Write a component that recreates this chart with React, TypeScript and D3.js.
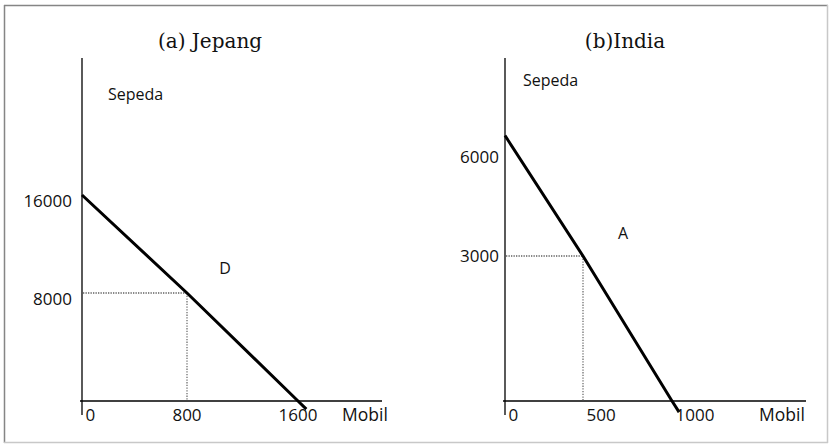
import React from "react";
import * as d3 from "d3";

// ---- data ----
const jepangTicksX = [0, 800, 1600];
const jepangTicksY = [8000, 16000];
const jepangPPF: [number, number][] = [
  [0, 16000],
  [800, 8000],
  [1600, 0],
  [1660, -600],
];
const jepangPoint: [number, number] = [800, 8000];
const jepangMarker = { label: "D", x: 1075, y: 10000 };

const indiaTicksX = [0, 500, 1000];
const indiaTicksY = [3000, 6000];
const indiaPPF: [number, number][] = [
  [0, 6650],
  [500, 3000],
  [1000, 0],
  [1040, -230],
];
const indiaPoint: [number, number] = [500, 3000];
const indiaMarker = { label: "A", x: 725, y: 3700 };

const titles = ["(a) Jepang", "(b)India"];
const yAxisName = "Sepeda";
const xAxisName = "Mobil";

// ---- layout ----
const W = 832;
const H = 445;
const SANS = "'Open Sans', sans-serif";
const SERIF = "'DejaVu Serif', serif";

type Panel = {
  title: string;
  titleX: number;
  ticksX: number[];
  ticksY: number[];
  ppf: [number, number][];
  point: [number, number];
  marker: { label: string; x: number; y: number };
  xDomain: number[];
  xRange: number[];
  yDomain: number[];
  yRange: number[];
  axisTop: number;
  axisRight: number;
  yLabelEnd: number;
  yLabelDy: number;
  xLabelMode: "middle" | "start";
  sepedaX: number;
  sepedaY: number;
  mobilX: number;
};

const panels: Panel[] = [
  {
    title: titles[0],
    titleX: 210,
    ticksX: jepangTicksX,
    ticksY: jepangTicksY,
    ppf: jepangPPF,
    point: jepangPoint,
    marker: jepangMarker,
    xDomain: jepangTicksX,
    xRange: [82, 187, 298],
    yDomain: [0, ...jepangTicksY],
    yRange: [401, 293, 195],
    axisTop: 58,
    axisRight: 382,
    yLabelEnd: 72,
    yLabelDy: 6,
    xLabelMode: "middle",
    sepedaX: 108,
    sepedaY: 100,
    mobilX: 342,
  },
  {
    title: titles[1],
    titleX: 625,
    ticksX: indiaTicksX,
    ticksY: indiaTicksY,
    ppf: indiaPPF,
    point: indiaPoint,
    marker: indiaMarker,
    xDomain: indiaTicksX,
    xRange: [505, 583, 672],
    yDomain: [0, ...indiaTicksY],
    yRange: [401, 256, 157],
    axisTop: 58,
    axisRight: 806,
    yLabelEnd: 499,
    yLabelDy: 0,
    xLabelMode: "start",
    sepedaX: 523,
    sepedaY: 86,
    mobilX: 759,
  },
];

function PanelView({ p }: { p: Panel }) {
  const x = d3.scaleLinear().domain(p.xDomain).range(p.xRange);
  const y = d3.scaleLinear().domain(p.yDomain).range(p.yRange);
  const line = d3
    .line<[number, number]>()
    .x((d) => x(d[0]))
    .y((d) => y(d[1]));
  const x0 = x(0);
  const y0 = y(0);
  const px = x(p.point[0]);
  const py = y(p.point[1]);
  return (
    <g>
      <text
        x={p.titleX}
        y={48}
        textAnchor="middle"
        fontFamily={SERIF}
        fontSize={20}
        fill="#111"
      >
        {p.title}
      </text>
      {/* axes */}
      <line x1={x0} x2={x0} y1={p.axisTop} y2={y0 + 14} stroke="#000" strokeWidth={1.3} />
      <line x1={x0 - 2} x2={p.axisRight} y1={y0} y2={y0} stroke="#000" strokeWidth={1.3} />
      {/* dotted guides */}
      <line x1={x0 + 1} x2={px} y1={py} y2={py} stroke="#111" strokeWidth={1.2} strokeDasharray="1.3,1.2" />
      <line x1={px} x2={px} y1={py} y2={y0} stroke="#555" strokeWidth={1.1} strokeDasharray="1.3,1.4" />
      {/* PPF line */}
      <path d={line(p.ppf) || ""} fill="none" stroke="#000" strokeWidth={3} />
      {/* y tick labels */}
      {p.ticksY.map((v) => (
        <text
          key={"y" + v}
          x={p.yLabelEnd}
          y={y(v) + p.yLabelDy}
          dy="0.35em"
          textAnchor="end"
          fontFamily={SANS}
          fontSize={17}
          fill="#111"
        >
          {v}
        </text>
      ))}
      {/* x tick labels */}
      {p.ticksX.map((v) => {
        const start = v === 0 || p.xLabelMode === "start";
        return (
          <text
            key={"x" + v}
            x={x(v) + (start ? 3.5 : 0)}
            y={421}
            textAnchor={start ? "start" : "middle"}
            fontFamily={SANS}
            fontSize={17}
            fill="#111"
          >
            {v}
          </text>
        );
      })}
      <text x={p.sepedaX} y={p.sepedaY} fontFamily={SANS} fontSize={16} fill="#111">
        {yAxisName}
      </text>
      <text x={p.mobilX} y={421} fontFamily={SANS} fontSize={17.5} fill="#111">
        {xAxisName}
      </text>
      <text
        x={x(p.marker.x)}
        y={y(p.marker.y)}
        dy="0.35em"
        textAnchor="middle"
        fontFamily={SANS}
        fontSize={16}
        fill="#111"
      >
        {p.marker.label}
      </text>
    </g>
  );
}

export default function App() {
  return (
    <svg
      width={W}
      height={H}
      viewBox={`0 0 ${W} ${H}`}
      style={{ position: "absolute", left: 0, top: 0, background: "#fff" }}
    >
      <rect x={0} y={0} width={W} height={H} fill="#fff" />
      {/* frame */}
      <line x1={4} x2={828} y1={5.5} y2={5.5} stroke="#858585" strokeWidth={1.5} />
      <line x1={4.5} x2={4.5} y1={5} y2={443} stroke="#858585" strokeWidth={1.5} />
      <line x1={4} x2={828} y1={442.5} y2={442.5} stroke="#c8c8c8" strokeWidth={1.5} />
      <line x1={827.5} x2={827.5} y1={5} y2={443} stroke="#c8c8c8" strokeWidth={1.5} />
      {panels.map((p, i) => (
        <PanelView key={i} p={p} />
      ))}
    </svg>
  );
}
